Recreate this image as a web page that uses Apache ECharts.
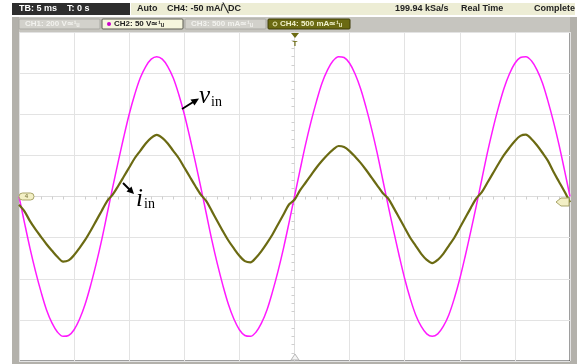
<!DOCTYPE html>
<html>
<head>
<meta charset="utf-8">
<script src="https://cdn.jsdelivr.net/npm/echarts@6/dist/echarts.min.js"></script>
<style>
html,body{margin:0;padding:0;background:#fff;}
#c{width:584px;height:364px;}
</style>
</head>
<body>
<div id="c"></div>
<script>
// time axis (ms), 5 ms/div, trigger at 0
const timeMs = [-25,-24.5,-24,-23.5,-23,-22.5,-22,-21.5,-21,-20.5,-20,-19.5,-19,-18.5,-18,-17.5,-17,-16.5,-16,-15.5,-15,-14.5,-14,-13.5,-13,-12.5,-12,-11.5,-11,-10.5,-10,-9.5,-9,-8.5,-8,-7.5,-7,-6.5,-6,-5.5,-5,-4.5,-4,-3.5,-3,-2.5,-2,-1.5,-1,-0.5,0,0.5,1,1.5,2,2.5,3,3.5,4,4.5,5,5.5,6,6.5,7,7.5,8,8.5,9,9.5,10,10.5,11,11.5,12,12.5,13,13.5,14,14.5,15,15.5,16,16.5,17,17.5,18,18.5,19,19.5,20,20.5,21,21.5,22,22.5,23,23.5,24,24.5,25];
// CH2 input voltage v_in (V), 50 V/div
const vinV = [0,-32,-63,-91,-116,-138,-154,-165,-170,-169,-162,-149,-131,-108,-82,-53,-21,11,42,72,100,124,144,158,167,170,167,158,144,124,100,72,42,11,-21,-53,-82,-108,-131,-149,-162,-169,-170,-165,-154,-138,-116,-91,-63,-32,0,32,63,91,116,138,154,165,170,169,162,149,131,108,82,53,21,-11,-42,-72,-100,-124,-144,-158,-167,-170,-167,-158,-144,-124,-100,-72,-42,-11,21,53,82,108,131,149,162,169,170,165,154,138,116,91,63,32,0];
// CH4 input current i_in (mA), 500 mA/div
const iinMA = [-100,-180,-300,-400,-490,-580,-660,-736,-792,-776,-712,-624,-528,-416,-296,-176,-56,23,128,240,353,465,555,645,713,750,713,645,555,465,353,240,128,23,-57,-178,-300,-421,-535,-632,-721,-786,-802,-745,-664,-567,-462,-340,-219,-97,-40,74,167,260,353,434,508,570,614,601,552,484,409,322,229,136,43,-24,-138,-259,-381,-502,-599,-697,-770,-810,-770,-697,-599,-502,-381,-259,-138,-24,53,167,281,395,502,593,676,737,752,699,623,532,433,300,180,60,-70];

const statusLeft = ['TB: 5 ms', 'T: 0 s'];
const statusMid = ['Auto', 'CH4: -50 mA/\u2572DC'];
const statusRight = ['199.94 kSa/s', 'Real Time', 'Complete'];
const chanLabels = ['CH1: 200 V\u2243\u00b9\u1d64', 'CH2: 50 V\u2243\u00b9\u1d64', 'CH3: 500 mA\u2243\u00b9\u1d64', 'CH4: 500 mA\u2243\u00b9\u1d64'];

const vinData = timeMs.map((t, i) => [t, vinV[i]]);
const iinData = timeMs.map((t, i) => [t, iinMA[i]]);

const chart = echarts.init(document.getElementById('c'), null, {renderer: 'canvas'});
const uiFont = 'Liberation Sans';
const olive = '#6b6a12';
const mag = '#ff1aff';

function btn(x, w, label, fill, stroke, color, dot, shadow) {
  const els = [{
    type: 'rect', shape: {x: x, y: 19, width: w, height: 10, r: 1},
    style: {fill: fill, stroke: stroke, lineWidth: 1}
  }];
  const ts = {text: label, fill: color, font: 'bold 8px ' + uiFont, verticalAlign: 'middle'};
  if (shadow) { ts.textShadowColor = shadow; ts.textShadowOffsetX = 1; ts.textShadowOffsetY = 1; ts.textShadowBlur = 0; }
  els.push({type: 'text', x: x + (dot ? 12 : 6), y: 24, style: ts});
  if (dot === 'fill') els.push({type: 'circle', shape: {cx: x + 7, cy: 24, r: 2}, style: {fill: '#cc00cc'}});
  if (dot === 'ring') els.push({type: 'circle', shape: {cx: x + 7, cy: 24, r: 2}, style: {fill: 'none', stroke: '#e8e8b0', lineWidth: 1}});
  return els;
}

const graphics = [].concat(
  // status row
  [{type: 'rect', shape: {x: 12, y: 3, width: 118, height: 12}, style: {fill: '#2e2e2e'}},
   {type: 'rect', shape: {x: 131, y: 3, width: 444, height: 12}, style: {fill: '#ededd5'}},
   {type: 'text', x: 19, y: 9, style: {text: statusLeft[0], fill: '#fff', font: 'bold 9px ' + uiFont, verticalAlign: 'middle'}},
   {type: 'text', x: 67, y: 9, style: {text: statusLeft[1], fill: '#fff', font: 'bold 9px ' + uiFont, verticalAlign: 'middle'}},
   {type: 'text', x: 137, y: 9, style: {text: statusMid[0], fill: '#222', font: 'bold 9px ' + uiFont, verticalAlign: 'middle'}},
   {type: 'text', x: 167, y: 9, style: {text: statusMid[1], fill: '#222', font: 'bold 9px ' + uiFont, verticalAlign: 'middle'}},
   {type: 'text', x: 395, y: 9, style: {text: statusRight[0], fill: '#222', font: 'bold 9px ' + uiFont, verticalAlign: 'middle'}},
   {type: 'text', x: 461, y: 9, style: {text: statusRight[1], fill: '#222', font: 'bold 9px ' + uiFont, verticalAlign: 'middle'}},
   {type: 'text', x: 575, y: 9, style: {text: statusRight[2], fill: '#222', font: 'bold 9px ' + uiFont, verticalAlign: 'middle', align: 'right'}},
   // gray frame
   {type: 'rect', shape: {x: 12, y: 17, width: 565, height: 15}, style: {fill: '#c6c5bf'}},
   {type: 'rect', shape: {x: 12, y: 17, width: 7, height: 347}, style: {fill: '#b3b1ab'}},
   {type: 'rect', shape: {x: 570, y: 17, width: 7, height: 347}, style: {fill: '#b3b1ab'}},
   {type: 'rect', shape: {x: 12, y: 361, width: 565, height: 3}, style: {fill: '#b3b1ab'}}
  ],
  btn(19, 81, chanLabels[0], '#d2d1cb', '#a9a8a2', '#f2f2ee', null, '#a8a7a0'),
  btn(102, 81, chanLabels[1], '#f6f6de', '#5a5a50', '#222', 'fill', null),
  btn(185, 81, chanLabels[2], '#d2d1cb', '#a9a8a2', '#f2f2ee', null, '#a8a7a0'),
  btn(268, 82, chanLabels[3], '#6b6a12', '#3e3d08', '#f2f2cc', 'ring', null),
  [
   // trigger position marker (top)
   {type: 'polygon', shape: {points: [[291, 33], [299, 33], [295, 38]]}, style: {fill: olive}, z: 10},
   {type: 'text', x: 295, y: 44, style: {text: 'T', fill: olive, font: 'bold 8px ' + uiFont, align: 'center', verticalAlign: 'middle'}, z: 10},
   // bottom marker
   {type: 'polygon', shape: {points: [[291, 360], [299, 360], [295, 354]]}, style: {fill: '#f4f4f4', stroke: '#b8b8b8', lineWidth: 1}, z: 10},
   // ground marker (left)
   {type: 'rect', shape: {x: 19, y: 193, width: 15, height: 7, r: 3.5}, style: {fill: '#f3f0c6', stroke: '#a9a56a', lineWidth: 1}, z: 10},
   {type: 'text', x: 26.5, y: 196.8, style: {text: '4', fill: '#8a8650', font: 'bold 6px ' + uiFont, align: 'center', verticalAlign: 'middle'}, z: 10},
   // trigger level marker (right)
   {type: 'polygon', shape: {points: [[569, 198], [561, 198], [556, 202], [561, 206], [569, 206]]}, style: {fill: '#f3f0c6', stroke: '#a9a56a', lineWidth: 1}, z: 10},
   // annotations
   {type: 'line', shape: {x1: 182, y1: 109, x2: 194, y2: 101.5}, style: {stroke: '#000', lineWidth: 2}, z: 20},
   {type: 'polygon', shape: {points: [[199, 98.5], [190.5, 99.5], [194.5, 105.5]]}, style: {fill: '#000'}, z: 20},
   {type: 'text', x: 199, y: 84, style: {text: 'v', fill: '#000', font: 'italic 25px "Liberation Serif"', verticalAlign: 'top'}, z: 20},
   {type: 'text', x: 211, y: 95, style: {text: 'in', fill: '#000', font: '14px "Liberation Serif"', verticalAlign: 'top'}, z: 20},
   {type: 'line', shape: {x1: 123, y1: 183, x2: 130, y2: 190}, style: {stroke: '#000', lineWidth: 2}, z: 20},
   {type: 'polygon', shape: {points: [[134, 194], [126.5, 191.5], [131.5, 186.5]]}, style: {fill: '#000'}, z: 20},
   {type: 'text', x: 136, y: 187, style: {text: 'i', fill: '#000', font: 'italic 25px "Liberation Serif"', verticalAlign: 'top'}, z: 20},
   {type: 'text', x: 144, y: 197, style: {text: 'in', fill: '#000', font: '14px "Liberation Serif"', verticalAlign: 'top'}, z: 20}
  ]
);

const option = {
  animation: false,
  backgroundColor: '#fff',
  grid: {left: 19, right: 14, top: 32, bottom: 3, show: true, borderColor: '#3c3c3c', borderWidth: 1, backgroundColor: '#fff'},
  xAxis: {
    type: 'value', min: -25, max: 25, interval: 5,
    axisLabel: {show: false},
    axisLine: {show: true, onZero: true, lineStyle: {color: '#dcdcdc', width: 1}},
    axisTick: {show: false},
    minorTick: {show: true, splitNumber: 5, length: 3, lineStyle: {color: '#cfcfcf'}},
    splitLine: {show: true, lineStyle: {color: '#e3e3e3', width: 1}}
  },
  yAxis: [{
    type: 'value', min: -200, max: 200, interval: 50,
    axisLabel: {show: false},
    axisLine: {show: true, onZero: true, lineStyle: {color: '#dcdcdc', width: 1}},
    axisTick: {show: false},
    minorTick: {show: true, splitNumber: 5, length: 3, lineStyle: {color: '#cfcfcf'}},
    splitLine: {show: true, lineStyle: {color: '#e3e3e3', width: 1}}
  }, {
    type: 'value', min: -2000, max: 2000, interval: 500,
    show: false, splitLine: {show: false}
  }],
  series: [{
    name: 'v_in', type: 'line', data: vinData, yAxisIndex: 0,
    showSymbol: false, smooth: 0.35,
    lineStyle: {color: mag, width: 1.5}, z: 3
  }, {
    name: 'i_in', type: 'line', data: iinData, yAxisIndex: 1,
    showSymbol: false, smooth: 0.3,
    lineStyle: {color: olive, width: 2.2}, z: 4
  }],
  graphic: graphics
};
chart.setOption(option);
</script>
</body>
</html>
